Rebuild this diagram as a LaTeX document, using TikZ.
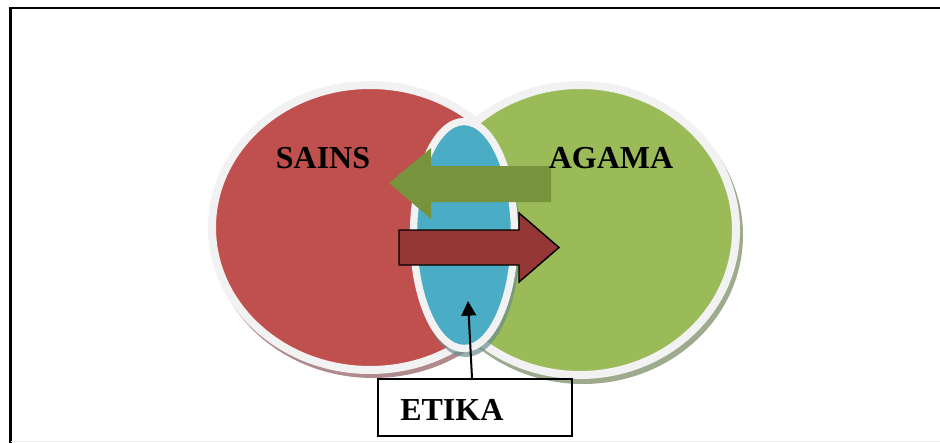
\documentclass[tikz,border=0pt]{standalone}
\usepackage{fontspec}
\setmainfont{Liberation Serif}
\usetikzlibrary{arrows.meta}
\definecolor{sainsred}{HTML}{C0504D}
\definecolor{agamagreen}{HTML}{9BBB59}
\definecolor{etikablue}{HTML}{4BACC6}
\definecolor{arrowgreen}{HTML}{77933C}
\definecolor{arrowred}{HTML}{953735}
\definecolor{ringgray}{HTML}{F2F2F2}
\definecolor{redshadow}{HTML}{B08A8C}
\definecolor{greenshadow}{HTML}{9EAA8E}
\definecolor{blueshadow}{HTML}{6A8E8C}
\tikzset{
  ring/.style={draw=ringgray, line width=6pt},
  bigword/.style={inner sep=0pt, font=\fontsize{24}{28}\selectfont\bfseries},
  frameline/.style={line width=1.6pt, black},
}
\begin{document}
\begin{tikzpicture}[x=0.75pt,y=-0.75pt]
\useasboundingbox (0,0) rectangle (940,443);

% outer frame (open on the right and bottom)
\draw[frameline] (940,8) -- (10.5,8) -- (10.5,443);
\draw[gray!15, line width=0.8pt] (10.5,441.5) -- (940,441.5);

% SAINS circle
\fill[redshadow] (373,232) ellipse (162 and 146);
\filldraw[fill=sainsred, ring] (370,227.5) ellipse (158 and 142.5);

% AGAMA circle
\fill[greenshadow] (583,235) ellipse (160 and 149);
\filldraw[fill=agamagreen, ring] (580,230) ellipse (156 and 145);

% ETIKA ellipse in the overlap
\fill[blueshadow, opacity=0.7] (466,240) ellipse (54 and 117);
\filldraw[fill=etikablue, ring, line width=5.5pt] (464,235) ellipse (50.5 and 113.5);

% green arrow pointing left
\fill[arrowgreen] (551,166) -- (431,166) -- (431,148) -- (389,183)
  -- (431,219) -- (431,202) -- (551,202) -- cycle;

% red arrow pointing right
\filldraw[fill=arrowred, draw=black, line width=1.1pt]
  (399,230) -- (519,230) -- (519,213) -- (559,247.5)
  -- (519,282) -- (519,265) -- (399,265) -- cycle;

% labels
\node[bigword] (sains) at (323,158) {SAINS};
\node[bigword] (agama) at (611,158) {AGAMA};

% ETIKA box and pointer
\node[draw, line width=1.2pt, minimum width=145.5pt, minimum height=42.75pt,
      inner sep=0pt] (etikabox) at (475,407.5) {};
\node[bigword, anchor=base west] (etika) at (400,420) {ETIKA};
\coordinate (etikatip) at (468,301);
\draw[line width=1.5pt, -{Triangle[length=11pt,width=11pt]}]
  ([xshift=-2.25pt]etikabox.north) -- (etikatip);
\end{tikzpicture}
\end{document}
